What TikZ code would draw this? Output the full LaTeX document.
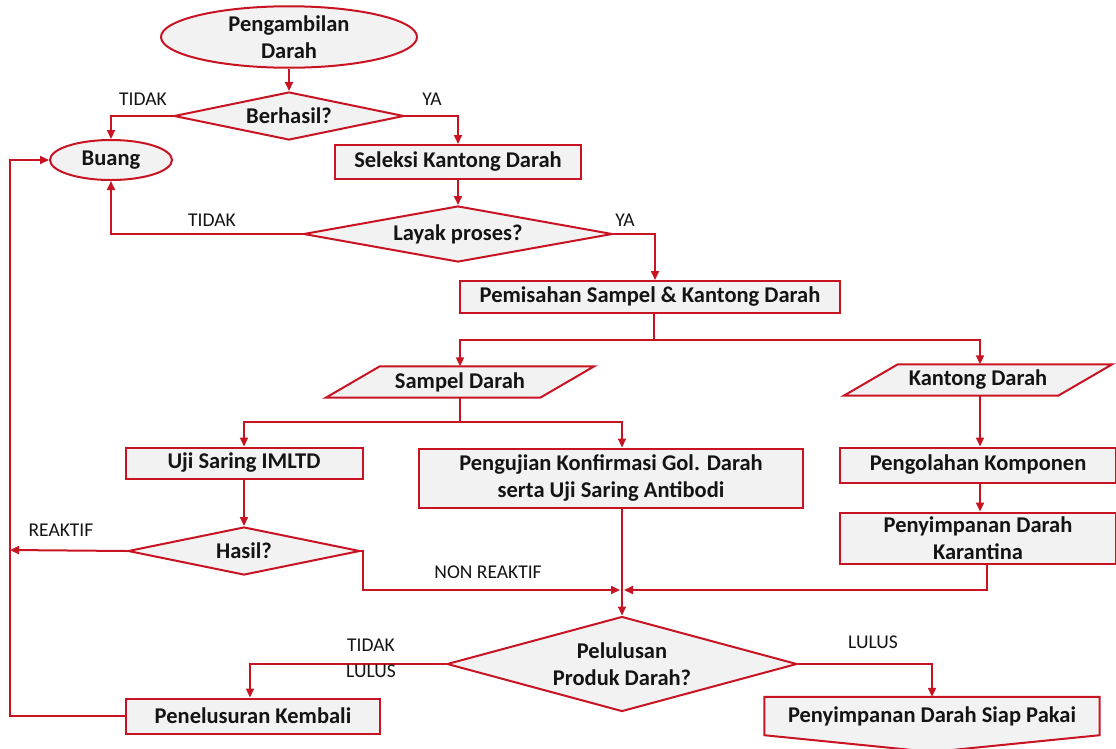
\documentclass[tikz,border=0pt]{standalone}
\usepackage{fontspec}
\setmainfont{Carlito}
\usetikzlibrary{shapes.geometric,arrows.meta,backgrounds,calc}
\definecolor{lred}{RGB}{200,20,34}
\definecolor{lfill}{RGB}{242,242,242}
\definecolor{ltext}{RGB}{20,20,20}
\begin{document}
\begin{tikzpicture}[x=1pt,y=-1pt,
  every node/.style={font=\fontsize{22.5}{27.5}\selectfont\bfseries, text=ltext, align=center, inner sep=0pt},
  boxn/.style={draw=lred, fill=lfill, line width=2pt, rectangle},
  ovaln/.style={draw=lred, fill=lfill, line width=2pt, ellipse},
  decn/.style={draw=lred, fill=lfill, line width=2pt, diamond},
  shp/.style={draw=lred, fill=lfill, line width=2pt},
  lbl/.style={font=\fontsize{19.5}{26}\selectfont},
  arr/.style={draw=lred, line width=2pt, -{Triangle[length=9pt,width=8pt]}},
  ln/.style={draw=lred, line width=2pt}]
\useasboundingbox (0,0) rectangle (1116,748);

% nodes
\node[ovaln, minimum width=256, minimum height=58] (peng) at (289,37) {Pengambilan\\Darah};
\node[decn, aspect=4.8, minimum width=230, minimum height=48] (berh) at (289,116) {Berhasil?};
\node[ovaln, minimum width=122, minimum height=40] (buang) at (111,160) {Buang};
\node[boxn, minimum width=246, minimum height=34] (sel) at (458,162) {Seleksi Kantong Darah};
\node[decn, aspect=5.5, minimum width=309, minimum height=56] (layak) at (458,234) {Layak proses?};
\node[boxn, minimum width=380, minimum height=32] (pem) at (650,297) {Pemisahan Sampel \& Kantong Darah};
\node[minimum width=214, minimum height=31] (samp) at (460,382) {Sampel Darah};
\node[minimum width=214, minimum height=31] (kant) at (978,380) {Kantong Darah};
\node[boxn, minimum width=237, minimum height=31] (uji) at (244,463) {Uji Saring IMLTD};
\node[boxn, minimum width=384, minimum height=59] (kon) at (611,478) {Pengujian Konfirmasi Gol. Darah\\serta Uji Saring Antibodi};
\node[boxn, minimum width=276, minimum height=35] (olah) at (978,465) {Pengolahan Komponen};
\node[boxn, minimum width=276, minimum height=51] (kar) at (978,538) {Penyimpanan Darah\\Karantina};
\node[decn, aspect=4.8, minimum width=232, minimum height=48] (hasil) at (244,551) {Hasil?};
\node[decn, aspect=3.7, minimum width=350, minimum height=95] (lulus) at (622,664) {Pelulusan\\Produk Darah?};
\node[boxn, minimum width=254, minimum height=35] (pen) at (253,716) {Penelusuran Kembali};
\node[minimum width=335, minimum height=38] (siap) at (932,716) {Penyimpanan Darah Siap Pakai};

\begin{pgfonlayer}{background}
  \draw[shp] ($(samp.south west)+(-27,0)$) -- ($(samp.north west)+(27,0)$) -- ($(samp.north east)+(27,0)$) -- ($(samp.south east)+(-27,0)$) -- cycle;
  \draw[shp] ($(kant.south west)+(-27,0)$) -- ($(kant.north west)+(27,0)$) -- ($(kant.north east)+(27,0)$) -- ($(kant.south east)+(-27,0)$) -- cycle;
  \draw[shp] (siap.south west) -- (siap.north west) -- (siap.north east) -- (siap.south east) -- (932,752) -- cycle;
\end{pgfonlayer}

% coordinates
\coordinate (s1) at (654,340);
\coordinate (s2) at (460,422);
\coordinate (mj) at (622,590);
\coordinate (lp) at (10,160);
\coordinate (lr) at (10,550);

% connectors
\draw[arr] (peng.south) -- (berh.north);
\draw[arr] (berh.west) -| (buang.north);
\draw[arr] (berh.east) -| (sel.north);
\draw[arr] (sel.south) -- (layak.north);
\draw[arr] (layak.west) -| (buang.south);
\draw[arr] (layak.east) -| ([xshift=5pt]pem.north);
\draw[ln] ([xshift=4pt]pem.south) -- (s1);
\draw[arr] (s1) -| (samp.north);
\draw[arr] (s1) -| ([xshift=2pt]kant.north);
\draw[ln] (samp.south) -- (s2);
\draw[arr] (s2) -| (uji.north);
\draw[arr] (s2) -| ([xshift=11pt]kon.north);
\draw[arr] ([xshift=2pt]kant.south) -- ([xshift=2pt]olah.north);
\draw[arr] ([xshift=2pt]olah.south) -- ([xshift=2pt]kar.north);
\draw[arr] (uji.south) -- (hasil.north);
\draw[arr] (hasil.west) -- (lr);
\draw[arr, shorten >=2pt] (hasil.east) -- ++(2,0) |- (mj);
\draw[arr, shorten >=2pt] ([xshift=9pt]kar.south) |- (mj);
\draw[arr] ([xshift=11pt]kon.south) -- (lulus.north);
\draw[arr] (lulus.west) -| ([xshift=-3pt]pen.north);
\draw[arr] (lulus.east) -| (siap.north);
\draw[arr] (pen.west) -| (lp) -- (buang.west);

% labels
\node[lbl] (l1) at (143,99) {TIDAK};
\node[lbl] (l2) at (432,99) {YA};
\node[lbl] (l3) at (212,220) {TIDAK};
\node[lbl] (l4) at (625,220) {YA};
\node[lbl] (l5) at (61,530) {REAKTIF};
\node[lbl] (l6) at (488,572) {NON REAKTIF};
\node[lbl] (l7) at (371,658) {TIDAK\\LULUS};
\node[lbl] (l8) at (873,642) {LULUS};
\end{tikzpicture}
\end{document}
